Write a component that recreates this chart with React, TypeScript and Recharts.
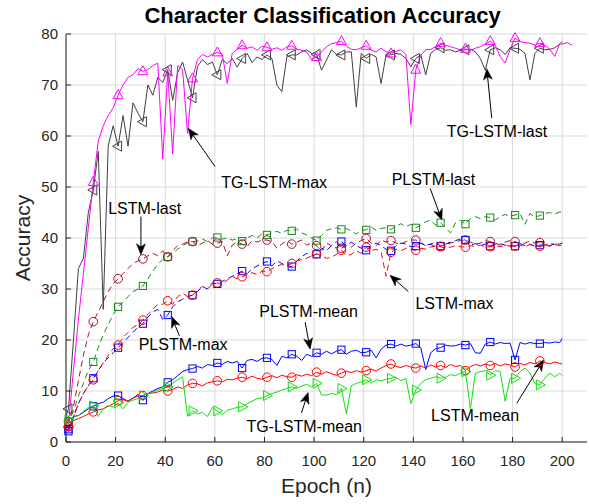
import React from 'react';
import { LineChart, Line, XAxis, YAxis, CartesianGrid, ReferenceLine, ReferenceDot } from 'recharts';

// x positions (epochs) of the sampled points
const epochs = [
  0,
  1, 3, 5, 7, 9, 11, 13, 15, 17, 19,
  21, 23, 25, 27, 29, 31, 33, 35, 37, 39,
  41, 43, 45, 47, 49, 51, 53, 55, 57, 59,
  61, 63, 65, 67, 69, 71, 73, 75, 77, 79,
  81, 83, 85, 87, 89, 91, 93, 95, 97, 99,
  101, 103, 105, 107, 109, 111, 113, 115, 117, 119,
  121, 123, 125, 127, 129, 131, 133, 135, 137, 139,
  141, 143, 145, 147, 149, 151, 153, 155, 157, 159,
  161, 163, 165, 167, 169, 171, 173, 175, 177, 179,
  181, 183, 185, 187, 189, 191, 193, 195, 197, 199,
  200, 202, 204,
];

const tgLstmLast = [
  5,
  6.5, 20, 34, 36, 45, 49.4, 57, 26, 58, 62,
  58, 64, 58, 66.5, 64.5, 62.8, 70, 68, 71.5, 70.5,
  73, 67, 72.4, 74.5, 71, 67.5, 73.6, 75, 74, 74.5,
  72, 75, 74.2, 75.2, 73.5, 75.2, 76.2, 74.4, 75.5, 75,
  75.9, 75.2, 70, 68.7, 75.5, 75.9, 75.9, 76.5, 76.9, 76.2,
  76, 72.9, 74.9, 76.9, 76, 75.9, 76.5, 76.5, 65.7, 76.2,
  75.2, 76, 75.5, 70.3, 75.9, 75.9, 76.2, 76, 75.2, 73.6,
  75.2, 75.9, 72, 76.2, 77, 77.3, 76.8, 76.9, 76.5, 76.8,
  76.9, 77, 76.5, 75.2, 72.9, 76.9, 77.3, 76.9, 76, 77.3,
  77.2, 77, 76.2, 71, 76.2, 77.2, 76.9, 77, 77.3, 78,
  78.5, null, null,
];

const tgLstmMax = [
  3,
  3.5, 14, 24, 33, 42, 51, 59, 62, 64, 65.5,
  68, 70, 71.5, 72, 73.2, 72.7, 73, 73.8, 74.3, 55.5,
  72.5, 56.5, 73.8, 73, 60.5, 71.3, 75, 76, 75.5, 76,
  76.4, 76, 70.3, 76.2, 77, 77.8, 77.2, 77.5, 76.8, 77.6,
  77.4, 77, 77.3, 76.8, 77.5, 77.7, 77, 76.8, 76.5, 75,
  75.5, 76.5, 77.5, 78.1, 78.3, 78.6, 77.6, 77, 76.9, 77.3,
  77.7, 76.8, 76.5, 77.2, 76.5, 76.2, 76.6, 76.9, 76, 62.2,
  73, 75.8, 76.9, 77, 77.5, 78.2, 77.8, 77.5, 77.2, 76.9,
  77.1, 76.8, 77.2, 77.5, 78, 78.6, 77.8, 75.6, 74.3, 77,
  79.2, 78.5, 78.3, 78.2, 77.8, 78.2, 77.8, 77, 75.6, 78.1,
  78, 78.3, 77.8,
];

const plstmLast = [
  3.5,
  4, 6, 9, 11.5, 14, 15.7, 18.5, 21, 23, 25,
  26.5, 27.5, 28.5, 29.5, 30, 30.6, 32, 33.5, 34.8, 35.8,
  36.3, 37, 37.8, 38.5, 39, 39.3, 39.4, 39.8, 39.3, 40,
  40.1, 39.8, 40, 39.6, 39.8, 39.4, 40, 40.5, 40, 40.8,
  40.6, 41, 41.3, 40.9, 41.5, 41.4, 41.8, 41, 40.6, 40,
  39.5, 40.5, 41.5, 41.8, 42, 41.7, 41.9, 41.3, 40.8, 41.5,
  41.6, 42.2, 41.5, 41.9, 42, 41.7, 42.3, 42.8, 42.2, 42.7,
  42, 42.5, 43.2, 43.5, 42.5, 43, 42, 41, 43, 43.5,
  42.7, 43.8, 44.2, 43.8, 44.2, 44, 43.5, 44.2, 44.6, 44.3,
  44.5, 44.8, 42.7, 44.8, 44.1, 44.4, 44.8, 45, 44.7, 45.1,
  45, null, null,
];

const lstmLast = [
  3.5,
  4, 7, 12, 17, 21, 23.6, 25.5, 27.5, 29.5, 31,
  32, 33, 34, 35, 35.5, 35.9, 36.5, 37, 36.5, 37.5,
  36.3, 37.5, 38.5, 38.8, 39.2, 39.3, 38.5, 39, 39.5, 38.8,
  39, 39.3, 36.5, 38.6, 39.2, 38.8, 38.3, 39.5, 39.2, 39.6,
  39.6, 39.3, 38, 38.8, 39.5, 38.8, 39.2, 39.6, 38.6, 39,
  38.5, 37.5, 39, 38.5, 39.3, 38, 38.5, 38.2, 39, 39.5,
  39.9, 39, 38.5, 39.6, 39.2, 39.5, 39, 38.8, 39.3, 39.6,
  39.6, 39, 38.5, 38.8, 38.2, 38.4, 38.8, 39, 39.3, 39.5,
  39.6, 39.2, 38.8, 39, 39.5, 39.3, 39, 38.6, 39.2, 39.5,
  39.3, 38.8, 39, 39.4, 39, 39.1, 38.6, 39, 38.7, 39,
  39, null, null,
];

const plstmMax = [
  2.5,
  2.5, 5, 7.5, 9.5, 11, 12.5, 14, 15.5, 16.5, 17.5,
  18.5, 19.5, 20.5, 21.5, 22.5, 23.2, 24.5, 25.5, 26, 24,
  24.9, 26.5, 27.5, 28, 28.5, 28.8, 29.5, 30.5, 30, 31.2,
  31, 31.5, 32, 32.5, 33, 33.5, 33, 34, 34.5, 35,
  35.4, 34.5, 35.5, 35, 34.5, 34.4, 35.5, 36.3, 37, 36.5,
  36.8, 38, 37.5, 38.5, 38, 39.3, 38.5, 39.2, 38.5, 38,
  37.6, 38.5, 39, 38.5, 37.8, 37.5, 38.5, 39, 38.8, 38.3,
  38.4, 39, 38.6, 38.8, 39.2, 38.4, 38.8, 39.2, 39.5, 39.8,
  39.6, 38.6, 38.9, 38.5, 38.8, 38.4, 38.8, 38.9, 38.6, 38.4,
  38.4, 38.9, 38.5, 38.8, 38.4, 38.6, 38.7, 38.5, 38.9, 38.8,
  39, null, null,
];

const lstmMax = [
  3,
  3, 5, 7.5, 9.5, 11, 12.2, 14, 15.5, 17, 18.3,
  19, 20.5, 21.5, 22.5, 23, 23.9, 25, 26, 27, 27,
  27.7, 27, 28.5, 29.2, 28.5, 28.8, 29.8, 30.5, 30, 31,
  31.2, 30.8, 31.8, 32.5, 32, 32.4, 32.8, 33.2, 32.8, 33.5,
  33.4, 34, 34.5, 34.8, 34.5, 35, 35.5, 35.8, 36, 36.5,
  36.9, 36.5, 36, 36.2, 36.8, 37.6, 36.5, 36.8, 37.5, 37,
  38.2, 37.5, 37.8, 37.3, 32.5, 37.2, 37.8, 37.5, 38, 37.8,
  37.6, 38, 37.8, 38.2, 38.5, 38.3, 38, 38.2, 38.5, 38.3,
  38.2, 38.5, 38.3, 38.6, 38.2, 38.3, 38.5, 38.3, 38.6, 38.4,
  38.4, 38.6, 38.3, 38.7, 38.5, 38.4, 38.6, 38.4, 38.7, 38.5,
  38.6, null, null,
];

const plstmMean = [
  2.5,
  2.1, 5, 5.2, 5.8, 6.5, 7, 7.5, 7.8, 8.5, 9,
  9.1, 8.5, 8, 8.6, 9.3, 8.2, 9.5, 10, 10.5, 10.8,
  11.7, 12.2, 13, 13.8, 14.2, 14.4, 14.8, 14.5, 15.2, 15,
  15.5, 15.2, 15.8, 15.5, 15.8, 14.5, 16, 16.2, 15.8, 16.4,
  16.5, 16.2, 15, 16.8, 16.5, 17.2, 16.8, 16, 17.2, 16.8,
  17.5, 17.2, 17.8, 17.3, 17.8, 18.1, 17.2, 17.8, 18, 17.5,
  17.6, 18, 16.5, 18.2, 19, 19.2, 18.8, 19.2, 18.8, 19,
  19.3, 18.5, 14.2, 17.5, 18.3, 18.5, 19, 18.8, 18.9, 19.2,
  19, 19.3, 17.5, 17.4, 19.2, 19.6, 19.2, 19.5, 19.3, 19.4,
  16.1, 19.5, 19.2, 19.5, 19.3, 19.3, 19.5, 19.4, 19.6, 19.5,
  20.3, null, null,
];

const lstmMean = [
  3,
  3.1, 4.2, 4.6, 5, 5.5, 5.9, 6.3, 6.5, 7, 7.5,
  8.1, 8.3, 8, 8.6, 9, 9.1, 9.5, 9.6, 9.8, 10.2,
  10, 10.3, 10.8, 10.5, 11.2, 11.5, 11.4, 11, 11.6, 11.8,
  12, 11.8, 12.3, 12.2, 12.5, 12.7, 12.4, 12.9, 12.5, 12.3,
  12.7, 13, 12.6, 13.1, 12.8, 12.7, 13.2, 12.9, 13.3, 13,
  13.7, 13.3, 13.8, 13.4, 13.1, 13.5, 13.9, 13.6, 14, 13.7,
  14, 14.3, 13.9, 14.5, 15, 15.3, 14.8, 14.6, 15, 14.7,
  14.5, 14.9, 14.5, 15.1, 14.7, 15, 14.6, 15.2, 14.8, 15,
  14, 14.8, 15.2, 14.9, 15.3, 15, 15.4, 14.9, 15.3, 15.1,
  14.7, 15.4, 15.1, 15.6, 15.3, 15.9, 15.6, 15.3, 15.7, 15.4,
  15.3, null, null,
];

const tgLstmMean = [
  4.5,
  4.4, 4.8, 5.2, 6, 6.8, 7.1, 5, 6.5, 7.2, 6.8,
  7.7, 6.5, 7.8, 8.2, 8.5, 9.1, 9.4, 9.8, 10.2, 10.5,
  10.8, 11.5, 12.2, 12.8, 5, 6.1, 5.5, 5.8, 5, 6.8,
  6.1, 5.4, 6.2, 6.5, 6.8, 6.9, 7.5, 8, 8.5, 8.6,
  9.1, 9.5, 9.8, 10.2, 10.5, 10.8, 10.5, 11, 11.3, 10.8,
  11.5, 9.2, 9.2, 9.5, 9.3, 10.5, 5.5, 11, 11.5, 11.8,
  12.2, 11.5, 12.2, 12, 12.3, 12.5, 12.7, 12, 12.5, 7.5,
  10.2, 11.5, 12.2, 12.5, 12.8, 12.5, 12.7, 13.2, 13, 13.5,
  13.8, 6.5, 13.5, 13.8, 14, 13.1, 14, 13.8, 8, 12.5,
  12.5, 13.8, 14.5, 13.5, 11.5, 11.2, 12.5, 13.5, 12.8, 13.5,
  13, null, null,
];

const xTicks = [0, 20, 40, 60, 80, 100, 120, 140, 160, 180, 200];
const yTicks = [0, 10, 20, 30, 40, 50, 60, 70, 80];

type Marker = 'circle' | 'square' | 'triUp' | 'triLeft' | 'triRight';

const seriesList: { key: string; values: (number | null)[]; color: string; dash?: string; marker: Marker }[] = [
  { key: 'tgLast', values: tgLstmLast, color: '#404040', marker: 'triLeft' },
  { key: 'tgMax', values: tgLstmMax, color: '#ff00ff', marker: 'triUp' },
  { key: 'pLast', values: plstmLast, color: '#1b8a1b', dash: '6 4', marker: 'square' },
  { key: 'lLast', values: lstmLast, color: '#a2142f', dash: '6 4', marker: 'circle' },
  { key: 'pMax', values: plstmMax, color: '#0000ff', dash: '6 4', marker: 'square' },
  { key: 'lMax', values: lstmMax, color: '#ff0000', dash: '6 4', marker: 'circle' },
  { key: 'pMean', values: plstmMean, color: '#0000ff', marker: 'square' },
  { key: 'lMean', values: lstmMean, color: '#ff0000', marker: 'circle' },
  { key: 'tgMean', values: tgLstmMean, color: '#11e011', marker: 'triRight' },
];

const data = epochs.map((epoch, i) => {
  const row: Record<string, number | null> = { epoch };
  seriesList.forEach((s) => {
    const v = s.values[i];
    row[s.key] = v === undefined ? null : v;
  });
  return row;
});

// annotations in data coordinates (epoch, accuracy)
const notes = [
  { text: 'TG-LSTM-last', tx: 173.7, ty: 60.8, from: [171.6, 63.5], to: [169.6, 73.2] },
  { text: 'TG-LSTM-max', tx: 83.9, ty: 50.8, from: [60.1, 54], to: [49.3, 61.5] },
  { text: 'LSTM-last', tx: 31.7, ty: 45.8, from: [30.2, 44.2], to: [30.2, 36.7] },
  { text: 'PLSTM-last', tx: 148.1, ty: 51.4, from: [146.8, 49.7], to: [151.5, 43.5] },
  { text: 'PLSTM-max', tx: 47.2, ty: 19.2, from: [45.7, 20.8], to: [42.6, 24.6] },
  { text: 'LSTM-max', tx: 156.6, ty: 27.2, from: [138, 29.5], to: [130.6, 32.7] },
  { text: 'PLSTM-mean', tx: 97.8, ty: 25.5, from: [96.4, 23.5], to: [98.4, 18.2] },
  { text: 'TG-LSTM-mean', tx: 96, ty: 3.1, from: [94.9, 5.7], to: [97.6, 9.7] },
  { text: 'LSTM-mean', tx: 164.9, ty: 5.1, from: [181.7, 7.6], to: [192.5, 16.1] },
];

const FONT = '"Liberation Sans", Arial, Helvetica, sans-serif';
const AXIS = '#262626';

function makeDot(marker: Marker, color: string) {
  return (p: any) => {
    const { cx, cy, payload, index } = p;
    const k = `m${index}`;
    if (cx == null || cy == null || isNaN(cy) || !payload || payload.epoch % 10 !== 1) {
      return <g key={k} />;
    }
    const common = { fill: 'none', stroke: color, strokeWidth: 1 };
    switch (marker) {
      case 'circle':
        return <circle key={k} cx={cx} cy={cy} r={4.3} {...common} />;
      case 'square':
        return <rect key={k} x={cx - 3.6} y={cy - 3.6} width={7.2} height={7.2} {...common} />;
      case 'triUp':
        return <polygon key={k} points={`${cx},${cy - 5.5} ${cx + 5},${cy + 3.5} ${cx - 5},${cy + 3.5}`} {...common} />;
      case 'triLeft':
        return <polygon key={k} points={`${cx - 5.5},${cy} ${cx + 3.5},${cy - 5} ${cx + 3.5},${cy + 5}`} {...common} />;
      default:
        return <polygon key={k} points={`${cx + 5.5},${cy} ${cx - 3.5},${cy - 5} ${cx - 3.5},${cy + 5}`} {...common} />;
    }
  };
}

const arrowShape = (p: any) => {
  const { x1, y1, x2, y2 } = p;
  const dx = x2 - x1;
  const dy = y2 - y1;
  const len = Math.hypot(dx, dy) || 1;
  const ux = dx / len;
  const uy = dy / len;
  const hl = 11;
  const hw = 4.5;
  const notch = 3;
  const bx = x2 - ux * hl;
  const by = y2 - uy * hl;
  const nx = -uy;
  const ny = ux;
  const lx = bx + nx * hw;
  const ly = by + ny * hw;
  const rx = bx - nx * hw;
  const ry = by - ny * hw;
  const mx = x2 - ux * (hl - notch);
  const my = y2 - uy * (hl - notch);
  return (
    <g>
      <line x1={x1} y1={y1} x2={mx} y2={my} stroke="#000" strokeWidth={1} />
      <polygon points={`${x2},${y2} ${lx},${ly} ${mx},${my} ${rx},${ry}`} fill="#000" stroke="#000" strokeWidth={0.5} />
    </g>
  );
};

export default function App() {
  return (
    <div style={{ position: 'absolute', left: 0, top: 0, width: 589, height: 504, background: '#fff' }}>
      <div
        style={{
          position: 'absolute',
          left: 322.5,
          top: 5,
          transform: 'translateX(-50%)',
          whiteSpace: 'nowrap',
          fontFamily: FONT,
          fontWeight: 'bold',
          fontSize: 22,
          lineHeight: '22px',
          color: '#000',
        }}
      >
        Character Classification Accuracy
      </div>
      <LineChart
        width={589}
        height={504}
        data={data}
        margin={{ top: 34, right: 2, bottom: 32, left: 16 }}
        style={{ fontFamily: FONT }}
      >
        <CartesianGrid stroke="#d9d9d9" strokeWidth={1} horizontalValues={yTicks} verticalValues={xTicks} />
        <XAxis
          dataKey="epoch"
          type="number"
          domain={[0, 210]}
          ticks={xTicks}
          interval={0}
          height={30}
          tickSize={-5}
          tickMargin={18}
          axisLine={{ stroke: AXIS }}
          tickLine={{ stroke: AXIS }}
          tick={{ fontSize: 15, fill: AXIS, fontFamily: FONT }}
          label={{ value: 'Epoch (n)', position: 'bottom', offset: 6, style: { fontSize: 21, fill: AXIS, fontFamily: FONT } }}
        />
        <XAxis
          xAxisId="top"
          orientation="top"
          dataKey="epoch"
          type="number"
          domain={[0, 210]}
          ticks={xTicks}
          interval={0}
          height={0}
          tickSize={-5}
          tick={false}
          axisLine={{ stroke: AXIS }}
          tickLine={{ stroke: AXIS }}
        />
        <YAxis
          type="number"
          domain={[0, 80]}
          ticks={yTicks}
          interval={0}
          width={50}
          tickSize={-5}
          tickMargin={13}
          axisLine={{ stroke: AXIS }}
          tickLine={{ stroke: AXIS }}
          tick={{ fontSize: 15, fill: AXIS, fontFamily: FONT }}
          label={{
            value: 'Accuracy',
            angle: -90,
            position: 'insideLeft',
            offset: 7,
            style: { fontSize: 21, fill: AXIS, fontFamily: FONT, textAnchor: 'middle' },
          }}
        />
        <YAxis
          yAxisId="right"
          orientation="right"
          type="number"
          domain={[0, 80]}
          ticks={yTicks}
          interval={0}
          width={0}
          tickSize={-5}
          tick={false}
          axisLine={{ stroke: AXIS }}
          tickLine={{ stroke: AXIS }}
        />
        {seriesList.map((s) => (
          <Line
            key={s.key}
            dataKey={s.key}
            type="linear"
            stroke={s.color}
            strokeWidth={1}
            strokeDasharray={s.dash}
            dot={makeDot(s.marker, s.color)}
            activeDot={false}
            isAnimationActive={false}
            connectNulls={false}
          />
        ))}
        {notes.map((n) => (
          <ReferenceLine
            key={`a-${n.text}`}
            segment={[
              { x: n.from[0], y: n.from[1] },
              { x: n.to[0], y: n.to[1] },
            ]}
            shape={arrowShape}
          />
        ))}
        {notes.map((n) => (
          <ReferenceDot
            key={`t-${n.text}`}
            x={n.tx}
            y={n.ty}
            r={0}
            shape={(p: any) => (
              <text
                x={p.cx}
                y={p.cy}
                textAnchor="middle"
                dominantBaseline="central"
                fontSize={16}
                fontFamily={FONT}
                fill="#000"
              >
                {n.text}
              </text>
            )}
          />
        ))}
      </LineChart>
    </div>
  );
}
